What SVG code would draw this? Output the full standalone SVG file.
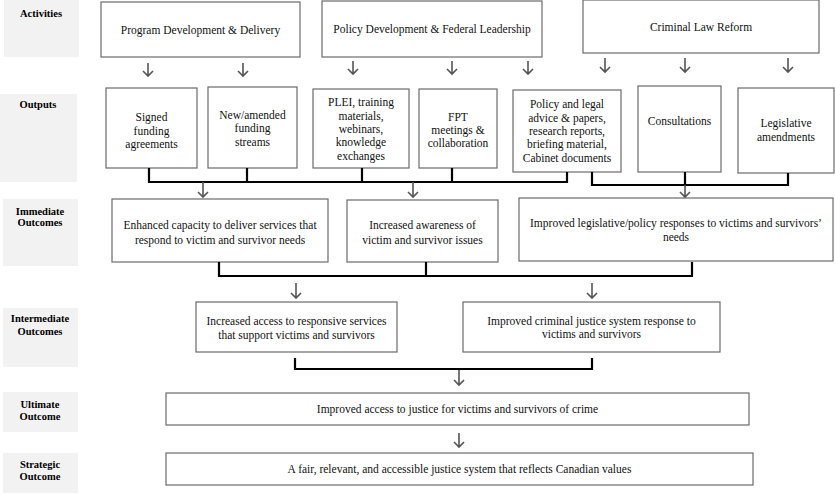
<svg xmlns="http://www.w3.org/2000/svg" width="835" height="495" viewBox="0 0 835 495">
<style>
.lab{fill:#f2f2f2;stroke:none}
.lt{font-family:"Liberation Serif","Times New Roman",serif;font-size:10.5px;font-weight:bold;fill:#000;text-anchor:middle}
.box{fill:#fff;stroke:#6b6b6b;stroke-width:1.2}
.t{font-family:"Liberation Serif","Times New Roman",serif;font-size:11.5px;fill:#111;text-anchor:middle}
.br{fill:none;stroke:#000;stroke-width:2.2}
.ar{fill:none;stroke:#555;stroke-width:1.6}
</style>
<rect width="835" height="495" fill="#fff"/>
<g id="labels">
<rect class="lab" x="4" y="0" width="75" height="57"/>
<text class="lt" x="41" y="17">Activities</text>
<rect class="lab" x="0" y="94" width="77" height="88"/>
<text class="lt" x="38" y="108">Outputs</text>
<rect class="lab" x="3" y="199" width="75" height="67"/>
<text class="lt" x="40" y="215">Immediate</text>
<text class="lt" x="40" y="226">Outcomes</text>
<rect class="lab" x="3" y="308" width="75" height="59"/>
<text class="lt" x="40" y="322">Intermediate</text>
<text class="lt" x="40" y="335">Outcomes</text>
<rect class="lab" x="3" y="392" width="75" height="40"/>
<text class="lt" x="40" y="408">Ultimate</text>
<text class="lt" x="40" y="420">Outcome</text>
<rect class="lab" x="3" y="453" width="75" height="40"/>
<text class="lt" x="40" y="468">Strategic</text>
<text class="lt" x="40" y="480">Outcome</text>
</g>
<g id="act1"><rect class="box" x="101" y="2" width="199" height="55"/><text class="t" x="200.5" y="34">Program Development &amp; Delivery</text></g>
<g id="act2"><rect class="box" x="322" y="1" width="220" height="56"/><text class="t" x="432" y="33">Policy Development &amp; Federal Leadership</text></g>
<g id="act3"><rect class="box" x="583" y="0" width="236" height="53"/><text class="t" x="701" y="31">Criminal Law Reform</text></g>
<g id="out1"><rect class="box" x="106" y="88" width="91" height="80"/><text class="t" x="151.5" y="121">Signed</text><text class="t" x="151.5" y="135">funding</text><text class="t" x="151.5" y="148">agreements</text></g>
<g id="out2"><rect class="box" x="208" y="87" width="89" height="81"/><text class="t" x="252.5" y="119">New/amended</text><text class="t" x="252.5" y="132">funding</text><text class="t" x="252.5" y="146">streams</text></g>
<g id="out3"><rect class="box" x="313" y="89" width="96" height="79"/><text class="t" x="361" y="106">PLEI, training</text><text class="t" x="361" y="120">materials,</text><text class="t" x="361" y="133">webinars,</text><text class="t" x="361" y="146">knowledge</text><text class="t" x="361" y="160">exchanges</text></g>
<g id="out4"><rect class="box" x="419" y="89" width="78" height="79"/><text class="t" x="458" y="121">FPT</text><text class="t" x="458" y="134">meetings &amp;</text><text class="t" x="458" y="147">collaboration</text></g>
<g id="out5"><rect class="box" x="513" y="90" width="108" height="82"/><text class="t" x="567" y="108">Policy and legal</text><text class="t" x="567" y="122">advice &amp; papers,</text><text class="t" x="567" y="135">research reports,</text><text class="t" x="567" y="148">briefing material,</text><text class="t" x="567" y="162">Cabinet documents</text></g>
<g id="out6"><rect class="box" x="638" y="86" width="83" height="86"/><text class="t" x="679.5" y="125">Consultations</text></g>
<g id="out7"><rect class="box" x="738" y="88" width="96" height="85"/><text class="t" x="786" y="127">Legislative</text><text class="t" x="786" y="141">amendments</text></g>
<g id="imm1"><rect class="box" x="112" y="199" width="216" height="63"/><text class="t" x="220" y="229">Enhanced capacity to deliver services that</text><text class="t" x="220" y="244">respond to victim and survivor needs</text></g>
<g id="imm2"><rect class="box" x="347" y="200" width="151" height="62"/><text class="t" x="422.5" y="229">Increased awareness of</text><text class="t" x="422.5" y="244">victim and survivor issues</text></g>
<g id="imm3"><rect class="box" x="519" y="198" width="314" height="63"/><text class="t" x="676" y="227">Improved legislative/policy responses to victims and survivors’</text><text class="t" x="676" y="241">needs</text></g>
<g id="int1"><rect class="box" x="196" y="302" width="201" height="50"/><text class="t" x="296.5" y="325">Increased access to responsive services</text><text class="t" x="296.5" y="339">that support victims and survivors</text></g>
<g id="int2"><rect class="box" x="463" y="302" width="257" height="50"/><text class="t" x="591.5" y="325">Improved criminal justice system response to</text><text class="t" x="591.5" y="338">victims and survivors</text></g>
<g id="ult"><rect class="box" x="166" y="393" width="583" height="32"/><text class="t" x="457.5" y="413">Improved access to justice for victims and survivors of crime</text></g>
<g id="str"><rect class="box" x="166" y="453" width="587" height="32"/><text class="t" x="459.5" y="473">A fair, relevant, and accessible justice system that reflects Canadian values</text></g>
<g id="connectors">
<path class="ar" d="M148,63V76M143,71L148,76L153,71"/>
<path class="ar" d="M243,63V76M238,71L243,76L248,71"/>
<path class="ar" d="M353,61V74M348,69L353,74L358,69"/>
<path class="ar" d="M452,61V74M447,69L452,74L457,69"/>
<path class="ar" d="M528,61V74M523,69L528,74L533,69"/>
<path class="ar" d="M605,58V72M600,67L605,72L610,67"/>
<path class="ar" d="M685,58V72M680,67L685,72L690,67"/>
<path class="ar" d="M788,58V72M783,67L788,72L793,67"/>
<path class="br" d="M149,168V182H567V172M247,168V182M362,168V182M452,168V182"/>
<path class="ar" d="M203,182V197M198,192L203,197L208,192"/>
<path class="ar" d="M413,182V197M408,192L413,197L418,192"/>
<path class="br" d="M592,172V185H788V173M685,172V185"/>
<path class="ar" d="M685,185V197M680,192L685,197L690,192"/>
<path class="br" d="M219,262V276H692V262M426,262V276"/>
<path class="ar" d="M296,283V298M291,293L296,298L301,293"/>
<path class="ar" d="M592,283V298M587,293L592,298L597,293"/>
<path class="br" d="M295,358V369H592V358"/>
<path class="ar" d="M459,370V385M454,380L459,385L464,380"/>
<path class="ar" d="M459,433V447M454,442L459,447L464,442"/>
</g>
</svg>
